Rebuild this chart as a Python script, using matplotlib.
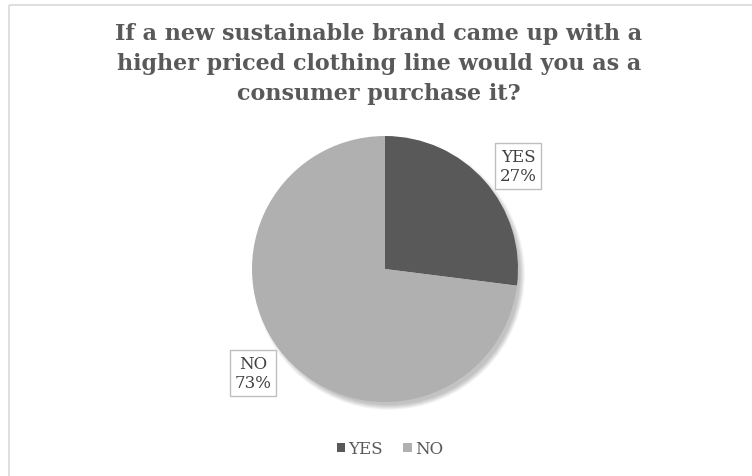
import matplotlib.pyplot as plt
from matplotlib.patches import Circle, Rectangle

# survey answers
labels = ["YES", "NO"]
shares = [27, 73]
colors = ["#595959", "#b0b0b0"]
title = ("If a new sustainable brand came up with a\n"
         "higher priced clothing line would you as a\n"
         "consumer purchase it?")

plt.rcParams['font.family'] = ['DejaVu Serif']

fig = plt.figure(figsize=(7.52, 4.77), dpi=100)
ax = fig.add_axes([0, 0, 1, 1])

# chart frame
ax.add_patch(Rectangle((9, 6), 800, 500, fill=False, edgecolor="#d9d9d9", lw=1.2))

cx, cy, r = 385, 270, 133

# soft drop shadow, towards the lower right
for k in range(8):
    ax.add_patch(Circle((cx + 4, cy + 5), r - 2 + k * 0.7, color="black",
                        alpha=0.03, lw=0, zorder=1))

wedges, _ = ax.pie(shares, colors=colors, startangle=270, counterclock=True,
                   center=(cx, cy), radius=r, frame=True,
                   wedgeprops=dict(linewidth=0, zorder=2))
ax.set_xlim(0, 752)
ax.set_ylim(477, 0)
ax.set_aspect('equal')
ax.axis('off')

ax.text(379, 64, title, ha='center', va='center', fontsize=16, fontweight='bold',
        color="#595959", linespacing=1.45)

label_pos = [(518, 167), (253, 374)]
for lab, val, (x, y) in zip(labels, shares, label_pos):
    ax.text(x, y, f"{lab}\n{val}%", ha='center', va='center', fontsize=12,
            color="#404040", linespacing=1.2,
            bbox=dict(boxstyle='square,pad=0.3', fc='white', ec='#bfbfbf', lw=1))

ax.legend(wedges, labels, loc='center', bbox_to_anchor=(390 / 752, 1 - 450 / 477),
          ncol=2, frameon=False, fontsize=12, handlelength=0.5, handleheight=0.5,
          handletextpad=0.2, columnspacing=1.2, labelcolor="#595959")

fig.savefig("out.png", dpi=100)
